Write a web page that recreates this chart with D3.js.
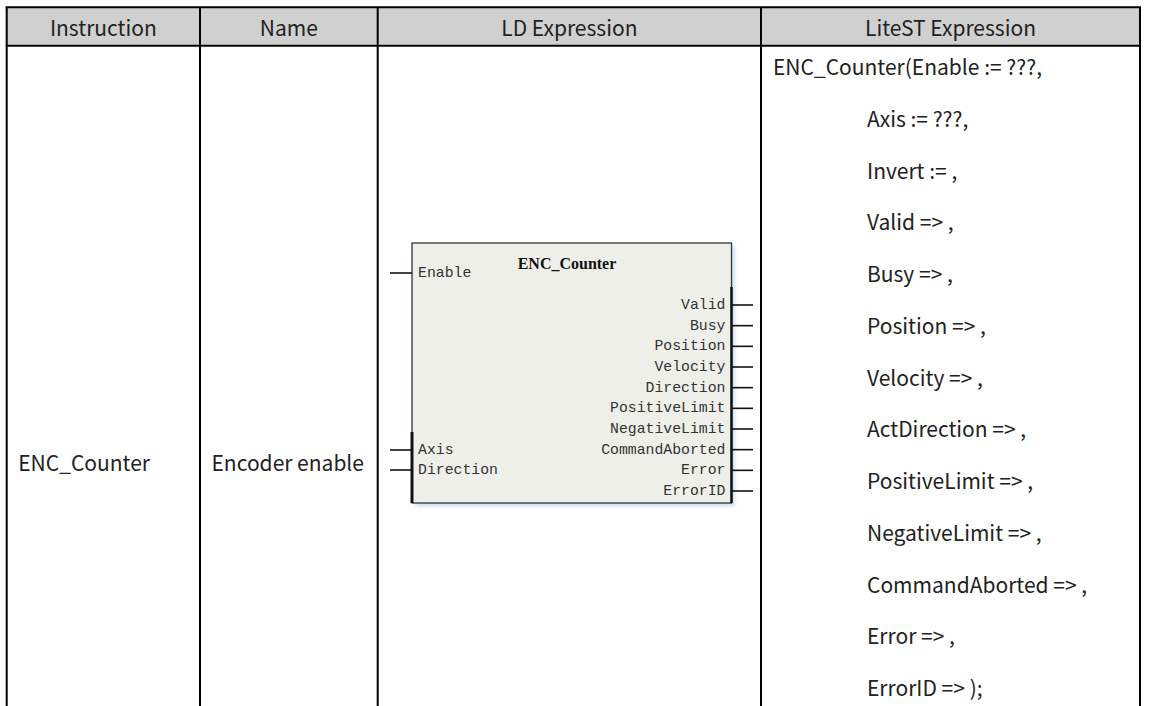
<!DOCTYPE html>
<html><head><meta charset="utf-8">
<script src="https://cdn.jsdelivr.net/npm/d3@7"></script>
<style>html,body{margin:0;padding:0;background:#fff;overflow:hidden}</style>
</head><body>
<svg id="chart" width="1149" height="706"></svg>
<script>
const headers = ["Instruction", "Name", "LD Expression", "LiteST Expression"];
const rowCells = ["ENC_Counter", "Encoder enable"];
const blockTitle = "ENC_Counter";
const inputsTop = ["Enable"];
const inputsBottom = ["Axis", "Direction"];
const outputs = ["Valid", "Busy", "Position", "Velocity", "Direction", "PositiveLimit", "NegativeLimit", "CommandAborted", "Error", "ErrorID"];
const stFirst = "ENC_Counter(Enable := ???,";
const stLines = ["Axis := ???,", "Invert := ,", "Valid => ,", "Busy => ,", "Position => ,", "Velocity => ,", "ActDirection => ,", "PositiveLimit => ,", "NegativeLimit => ,", "CommandAborted => ,", "Error => ,", "ErrorID => );"];

const svg = d3.select("#chart");
const colEdges = [6.7, 200, 377.7, 761, 1140];
const headTop = 7.3, headBot = 45.7;
const font = "'Noto Sans CJK SC','Noto Sans',sans-serif";
const mono = "'Liberation Mono','DejaVu Sans Mono',monospace";
const fs = 21;

// header
svg.append("rect").attr("x", colEdges[0]).attr("y", headTop)
  .attr("width", colEdges[4]-colEdges[0]).attr("height", headBot-headTop).attr("fill", "#d0d0d0");
svg.selectAll("text.h").data(headers).join("text").attr("class","h")
  .attr("x", (d,i)=>(colEdges[i]+colEdges[i+1])/2).attr("y", 26.5)
  .attr("text-anchor","middle").attr("dominant-baseline","central")
  .attr("font-family", font).attr("font-size", fs).attr("fill","#222").text(d=>d);

// grid lines
const g = svg.append("g").attr("stroke","#000").attr("stroke-width",2);
g.append("line").attr("x1",colEdges[0]-1).attr("x2",colEdges[4]+1).attr("y1",headTop).attr("y2",headTop);
g.append("line").attr("x1",colEdges[0]-1).attr("x2",colEdges[4]+1).attr("y1",headBot).attr("y2",headBot);
colEdges.forEach(x=>g.append("line").attr("x1",x).attr("x2",x).attr("y1",headTop).attr("y2",710));

// row cells
svg.selectAll("text.c").data(rowCells).join("text").attr("class","c")
  .attr("x",(d,i)=>colEdges[i]+11.5).attr("y",462).attr("dominant-baseline","central")
  .attr("font-family",font).attr("font-size",fs).attr("fill","#222").text(d=>d);

// ST lines
const stY = d3.scalePoint().domain(d3.range(stLines.length+1)).range([66, 687]);
svg.append("text").attr("x",773).attr("y",stY(0)).attr("dominant-baseline","central")
  .attr("font-family",font).attr("font-size",fs).attr("fill","#222").text(stFirst);
svg.selectAll("text.st").data(stLines).join("text").attr("class","st")
  .attr("x",867).attr("y",(d,i)=>stY(i+1)).attr("dominant-baseline","central")
  .attr("font-family",font).attr("font-size",fs).attr("fill","#222").text(d=>d);

// LD block
const bx0=412, by0=243, bx1=731.5, by1=503;
const defs = svg.append("defs");
const f = defs.append("filter").attr("id","sh").attr("x","-5%").attr("y","-5%").attr("width","115%").attr("height","115%");
f.append("feGaussianBlur").attr("stdDeviation",2);
svg.append("rect").attr("x",bx0+3).attr("y",by0+3).attr("width",bx1-bx0).attr("height",by1-by0)
  .attr("fill","#c9d9f2").attr("filter","url(#sh)");
svg.append("rect").attr("x",bx0).attr("y",by0).attr("width",bx1-bx0).attr("height",by1-by0)
  .attr("fill","#efefea").attr("stroke","#333").attr("stroke-width",1.3);
// thick edges
svg.append("line").attr("x1",bx0).attr("x2",bx0).attr("y1",432).attr("y2",by1).attr("stroke","#111").attr("stroke-width",3);
svg.append("line").attr("x1",bx1).attr("x2",bx1).attr("y1",287).attr("y2",by1).attr("stroke","#111").attr("stroke-width",2.5);

svg.append("text").attr("x",567).attr("y",263).attr("text-anchor","middle").attr("dominant-baseline","central")
  .attr("font-family","'Liberation Serif',serif").attr("font-weight","bold").attr("font-size",16).attr("fill","#111").text(blockTitle);

const inY = d3.scalePoint().domain(inputsBottom).range([450, 470]);
const pinIn = inputsTop.map(d=>({name:d,y:273})).concat(inputsBottom.map(d=>({name:d,y:inY(d)})));
svg.selectAll("line.pi").data(pinIn).join("line").attr("class","pi")
  .attr("x1",390).attr("x2",bx0).attr("y1",d=>d.y).attr("y2",d=>d.y).attr("stroke","#111").attr("stroke-width",1.6);
svg.selectAll("text.pi").data(pinIn).join("text").attr("class","pi")
  .attr("x",418).attr("y",d=>d.y).attr("dominant-baseline","central")
  .attr("font-family",mono).attr("font-size",14.8).attr("fill","#333").text(d=>d.name);

const outY = d3.scalePoint().domain(outputs).range([305, 491]);
svg.selectAll("line.po").data(outputs).join("line").attr("class","po")
  .attr("x1",bx1).attr("x2",753).attr("y1",d=>outY(d)).attr("y2",d=>outY(d)).attr("stroke","#111").attr("stroke-width",1.6);
svg.selectAll("text.po").data(outputs).join("text").attr("class","po")
  .attr("x",725.5).attr("y",d=>outY(d)).attr("text-anchor","end").attr("dominant-baseline","central")
  .attr("font-family",mono).attr("font-size",14.8).attr("fill","#333").text(d=>d);
</script>
</body></html>
